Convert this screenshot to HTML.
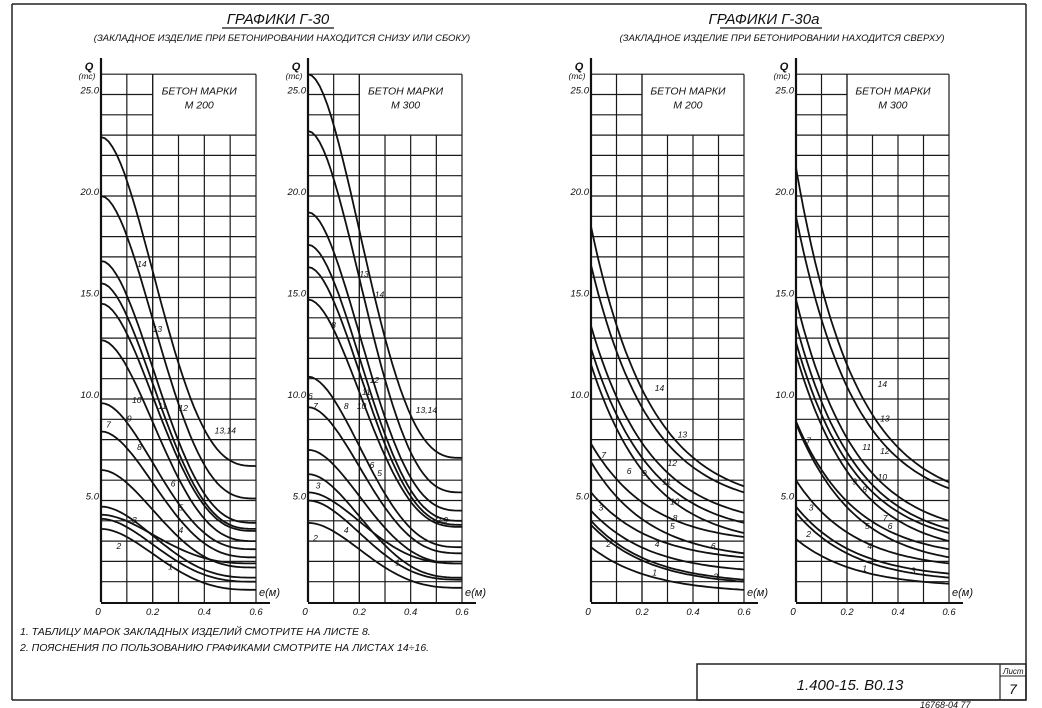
<!DOCTYPE html>
<html><head><meta charset="utf-8"><style>
html,body{margin:0;padding:0;background:#fff;}
svg{display:block}
text{font-family:"Liberation Sans","DejaVu Sans",sans-serif;font-style:italic;fill:#111}
</style></head><body>
<svg id="s" width="1042" height="708" viewBox="0 0 1042 708" xmlns="http://www.w3.org/2000/svg">
<rect x="0" y="0" width="1042" height="708" fill="#fff"/>
<line x1="12" y1="4" x2="1026" y2="4" stroke="#222" stroke-width="1.5"/>
<line x1="12" y1="4" x2="12" y2="700" stroke="#222" stroke-width="1.5"/>
<line x1="1026" y1="4" x2="1026" y2="700" stroke="#222" stroke-width="1.5"/>
<line x1="12" y1="700" x2="1026" y2="700" stroke="#222" stroke-width="1.5"/>
<text x="278" y="24" font-size="15" text-anchor="middle">ГРАФИКИ  Г-30</text>
<line x1="222" y1="28" x2="334" y2="28" stroke="#111" stroke-width="1.2"/>
<text x="282" y="41" font-size="9.5" text-anchor="middle">(ЗАКЛАДНОЕ ИЗДЕЛИЕ ПРИ БЕТОНИРОВАНИИ НАХОДИТСЯ СНИЗУ ИЛИ СБОКУ)</text>
<text x="764" y="24" font-size="15" text-anchor="middle">ГРАФИКИ  Г-30а</text>
<line x1="720" y1="28" x2="822" y2="28" stroke="#111" stroke-width="1.2"/>
<text x="782" y="41" font-size="9.5" text-anchor="middle">(ЗАКЛАДНОЕ ИЗДЕЛИЕ ПРИ БЕТОНИРОВАНИИ НАХОДИТСЯ СВЕРХУ)</text>
<text x="20" y="635" font-size="10.5">1. ТАБЛИЦУ МАРОК ЗАКЛАДНЫХ ИЗДЕЛИЙ СМОТРИТЕ НА ЛИСТЕ 8.</text>
<text x="20" y="651" font-size="10.5">2. ПОЯСНЕНИЯ ПО ПОЛЬЗОВАНИЮ ГРАФИКАМИ СМОТРИТЕ НА ЛИСТАХ 14÷16.</text>
<rect x="697" y="664" width="329" height="36" fill="none" stroke="#222" stroke-width="1.5"/>
<line x1="1000" y1="664" x2="1000" y2="700" stroke="#222" stroke-width="1.2"/>
<line x1="1000" y1="676" x2="1026" y2="676" stroke="#222" stroke-width="1"/>
<text x="1003" y="674" font-size="8">Лист</text>
<text x="1009" y="694" font-size="14">7</text>
<text x="850" y="690" font-size="15" text-anchor="middle">1.400-15. В0.13</text>
<text x="920" y="708" font-size="9">16768-04   77</text>
</svg>
<script>
var s=document.getElementById('s'),NS='http://www.w3.org/2000/svg';
function el(n,a,t){var e=document.createElementNS(NS,n);for(var k in a)e.setAttribute(k,a[k]);if(t!=null)e.textContent=t;s.appendChild(e);return e;}
function chart(x0,x1,mark,curves,shape,labels){
 var y0=602,k=20.3,cw=(x1-x0)/6;
 function X(e){return x0+e/0.1*cw} function Y(q){return y0-q*k}
 var g={stroke:'#1a1a1a','stroke-width':1.2};
 for(var i=1;i<=6;i++){var top=(i>=3)?Y(23):Y(26);el('line',Object.assign({x1:X(i*0.1),y1:(i==2||i==6)?Y(26):top,x2:X(i*0.1),y2:y0},g));}
 for(var q=1;q<=26;q++){var xe=(q>23)?X(0.2):x1;if(q==26||q==23)xe=x1;el('line',Object.assign({x1:x0,y1:Y(q),x2:xe,y2:Y(q)},g));}
 el('line',{x1:X(0.2),y1:Y(26),x2:X(0.2),y2:y0,stroke:'#1a1a1a','stroke-width':1.2});
 el('line',{x1:x0,y1:y0+1,x2:x1+14,y2:y0+1,stroke:'#111','stroke-width':2});
 el('line',{x1:x0,y1:58,x2:x0,y2:y0,stroke:'#111','stroke-width':2.2});
 el('text',{x:X(0.38),y:Y(25),'font-size':10.5,'text-anchor':'middle'},'БЕТОН МАРКИ');
 el('text',{x:X(0.38),y:Y(24.3),'font-size':10.5,'text-anchor':'middle'},mark);
 el('text',{x:x0-12,y:70,'font-size':11,'text-anchor':'middle','font-weight':'bold'},'Q');
 el('text',{x:x0-14,y:79,'font-size':8.5,'text-anchor':'middle'},'(тс)');
 [25,20,15,10,5].forEach(function(v){el('text',{x:x0-2,y:Y(v)-1,'font-size':9.5,'text-anchor':'end'},v.toFixed(1));});
 el('text',{x:x0-3,y:y0+13,'font-size':10,'text-anchor':'middle'},'0');
 el('text',{x:X(0.2),y:y0+13,'font-size':9.5,'text-anchor':'middle'},'0.2');
 el('text',{x:X(0.4),y:y0+13,'font-size':9.5,'text-anchor':'middle'},'0.4');
 el('text',{x:X(0.6),y:y0+13,'font-size':9.5,'text-anchor':'middle'},'0.6');
 el('text',{x:x1+3,y:y0-6,'font-size':11},'e(м)');
 curves.forEach(function(c){var d='';for(var j=0;j<=40;j++){var t=j/40,D;
  if(shape==1)D=Math.pow(1-t,3)*(1+3*t);else D=(Math.exp(-2.6*t)-Math.exp(-2.6))/(1-Math.exp(-2.6));
  var q=c[1]+(c[0]-c[1])*D;d+=(j?'L':'M')+X(t*0.6).toFixed(1)+' '+Y(q).toFixed(1);}
  el('path',{d:d,fill:'none',stroke:'#111','stroke-width':1.8});});
 labels.forEach(function(l){el('text',{x:X(l[1]),y:Y(l[2]),'font-size':8.5},l[0]);});
}
chart(101,256,'М 200',[[22.9,6.7],[20,5.1],[16.8,3.9],[15.7,3.6],[14.7,3.5],[12.9,3.0],[9.8,2.6],[8.4,2.2],[6.5,1.7],[4.7,1.2],[4.3,1.9],[4.1,1.0],[3.6,0.6]],1,
 [['14',0.14,16.5],['13',0.2,13.3],['12',0.3,9.4],['11',0.22,9.5],['10',0.12,9.8],['9',0.1,8.9],['8',0.14,7.5],['7',0.02,8.6],['6',0.27,5.7],['5',0.3,4.5],['4',0.3,3.4],['3',0.12,3.9],['2',0.06,2.6],['1',0.26,1.6],['13,14',0.44,8.3]]);
chart(308,462,'М 300',[[26,7.1],[23.2,5.4],[19.2,4.5],[17.6,4.0],[16.5,3.8],[14.9,3.7],[11.1,2.7],[9.6,2.4],[7.5,1.9],[6.3,1.2],[5.4,1.9],[5.0,1.1],[3.9,0.7]],1,
 [['13',0.2,16],['14',0.26,15],['8',0.09,13.5],['12',0.24,10.8],['11',0.21,10.2],['10',0.19,9.5],['13,14',0.42,9.3],['6',0.0,10],['7',0.02,9.5],['8',0.14,9.5],['5',0.27,6.2],['6',0.24,6.6],['2,9',0.5,3.9],['3',0.03,5.6],['4',0.14,3.4],['2',0.02,3],['1',0.34,1.8]]);
chart(591,744,'М 200',[[18.5,5.7],[16.6,5.4],[13.6,4.4],[12.5,3.9],[11.7,3.4],[7.8,3.2],[6.9,2.4],[5.4,2.2],[4.5,1.6],[4.0,1.1],[3.8,1.0],[2.7,0.6]],2,
 [['14',0.25,10.4],['13',0.34,8.1],['12',0.3,6.7],['11',0.28,5.8],['10',0.31,4.8],['9',0.2,6.2],['8',0.32,4],['7',0.04,7.1],['6',0.14,6.3],['5',0.31,3.6],['4',0.25,2.7],['3',0.03,4.5],['2',0.06,2.7],['1',0.24,1.3],['3',0.48,1.1],['6',0.47,2.6]]);
chart(796,949,'М 300',[[21.4,5.9],[19,5.6],[14.9,4.0],[13.7,3.6],[12.8,3.4],[12.2,3.0],[8.9,2.6],[8.8,2.2],[6.0,1.9],[4.7,1.4],[4.4,1.2],[3.1,0.9]],2,
 [['14',0.32,10.6],['13',0.33,8.9],['12',0.33,7.3],['11',0.26,7.5],['10',0.32,6],['9',0.22,5.8],['8',0.26,5.4],['7',0.04,7.8],['7',0.34,4.0],['6',0.36,3.6],['5',0.27,3.6],['4',0.28,2.6],['3',0.05,4.5],['2',0.04,3.2],['1',0.26,1.5],['3',0.45,1.4]]);
</script>
</body></html>
